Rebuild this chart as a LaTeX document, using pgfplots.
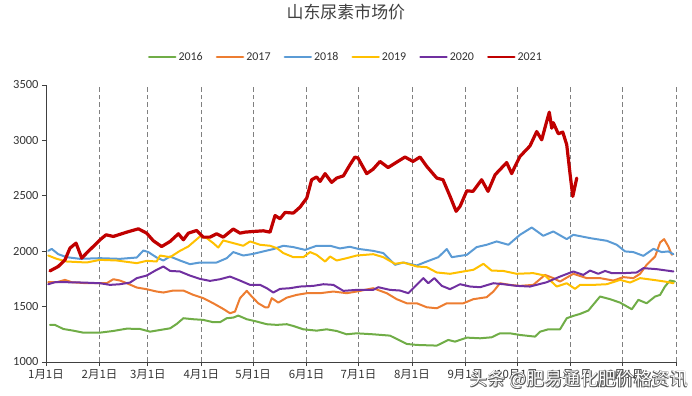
\documentclass[border=0pt]{standalone}
\usepackage{fontspec}
\setmainfont{Carlito}
\newfontfamily\cjk{Noto Sans CJK SC}
\usepackage{pgfplots}
\pgfplotsset{compat=1.18}
\definecolor{c16}{HTML}{70AD47}
\definecolor{c17}{HTML}{ED7D31}
\definecolor{c18}{HTML}{5B9BD5}
\definecolor{c19}{HTML}{FFC000}
\definecolor{c20}{HTML}{7030A0}
\definecolor{c21}{HTML}{C00000}
\definecolor{gridc}{HTML}{808080}
\begin{document}
\begin{tikzpicture}
\begin{axis}[
  name=ax,
  at={(0,0)}, anchor=south west,
  scale only axis, width=630bp, height=277bp,
  xmin=0, xmax=365, ymin=1000, ymax=3500,
  axis x line=bottom, axis y line=left,
  axis line style={-, draw=black!75, line width=0.8pt},
  xtick={0,31,59,90,120,151,181,212,243,273,304,334,365},
  xticklabels={1月1日,2月1日,3月1日,4月1日,5月1日,6月1日,7月1日,8月1日,9月1日,10月1日,11月1日,12月1日,{}},
  xticklabel style={font=\cjk\fontsize{11.5}{13}\selectfont, text=black!80},
  ytick={1000,1500,2000,2500,3000,3500},
  yticklabel style={font=\fontsize{12.5}{14}\selectfont, text=black!80},
  /pgf/number format/assume math mode=true,
  /pgf/number format/1000 sep={},
  tick align=outside, major tick length=4bp,
  tick style={draw=black!75, line width=0.8pt},
  xmajorgrids, major x grid style={gridc, dashed, dash pattern=on 4.5bp off 3bp, line width=0.8pt},
  title={山东尿素市场价},
  title style={at={(0.476,1.242)}, anchor=center, font=\cjk\fontsize{17}{19}\selectfont, text=black!75},
  legend columns=6,
  legend style={at={(0.476,1.101)}, anchor=center, draw=none, fill=none,
    font=\fontsize{12}{14}\selectfont, text=black!80,
    /tikz/every even column/.append style={column sep=11bp}},
  legend image code/.code={\draw[#1, line width=2.6bp] (0bp,0bp) -- (26bp,0bp);},
  every axis plot/.append style={line join=round, line cap=round},
]
\addplot[c16, line width=2bp] coordinates {
(2.3,1335)(5.2,1335)(10.0,1298)(15.8,1283)(21.6,1265)(31.3,1265)(39.0,1280)(46.8,1301)(54.5,1298)(60.3,1274)(66.1,1289)(71.9,1304)(75.7,1343)(79.6,1395)(85.3,1386)(91.1,1380)(96.9,1359)(100.8,1359)(104.7,1395)(108.5,1401)(111.4,1419)(116.3,1386)(122.1,1365)(127.9,1341)(133.7,1335)(139.5,1341)(143.3,1325)(149.1,1295)(156.8,1283)(162.6,1295)(168.4,1280)(174.2,1250)(180.0,1259)(189.6,1250)(199.3,1238)(209.0,1163)(214.8,1154)(226.4,1148)(233.1,1199)(237.0,1184)(243.8,1220)(251.5,1214)(258.2,1223)(263.0,1259)(268.8,1259)(274.6,1244)(283.3,1229)(286.3,1274)(291.0,1295)(297.8,1295)(301.7,1395)(305.5,1416)(309.4,1434)(314.2,1464)(321.0,1591)(326.8,1567)(332.6,1536)(339.4,1476)(343.2,1561)(348.0,1530)(352.9,1591)(355.8,1606)(358.6,1681)(361.5,1735)(364.4,1726)
};
\addlegendentry{2016}
\addplot[c17, line width=2bp] coordinates {
(1.3,1720)(6.2,1720)(11.0,1741)(14.9,1720)(23.6,1711)(35.2,1711)(39.0,1747)(42.9,1735)(46.8,1711)(52.6,1672)(58.3,1657)(64.1,1636)(68.0,1627)(73.8,1645)(79.6,1645)(85.3,1606)(91.1,1576)(96.9,1530)(102.7,1479)(106.6,1440)(109.5,1455)(112.4,1576)(116.3,1642)(119.2,1591)(123.0,1530)(126.9,1494)(128.8,1494)(130.8,1576)(134.6,1536)(139.5,1581)(145.3,1606)(151.1,1621)(158.8,1621)(166.5,1636)(174.2,1621)(180.0,1636)(189.6,1666)(197.4,1621)(203.2,1567)(209.0,1530)(214.8,1530)(220.6,1494)(226.4,1485)(232.2,1530)(241.8,1530)(247.6,1567)(255.3,1585)(259.2,1636)(263.0,1711)(268.8,1696)(274.6,1687)(282.3,1696)(289.1,1786)(293.9,1757)(297.8,1726)(305.5,1796)(313.3,1757)(321.0,1757)(328.7,1735)(334.5,1766)(340.3,1757)(344.2,1796)(348.0,1877)(352.9,1952)(355.8,2079)(358.1,2109)(360.6,2042)(362.6,1967)
};
\addlegendentry{2017}
\addplot[c18, line width=2bp] coordinates {
(1.3,2003)(3.3,2021)(7.1,1973)(12.0,1946)(19.7,1931)(31.3,1937)(42.9,1931)(52.6,1943)(56.4,2006)(59.3,1992)(64.1,1943)(68.0,1916)(71.9,1952)(77.6,1916)(83.4,1883)(89.2,1898)(98.9,1898)(104.7,1937)(108.5,1992)(114.3,1961)(120.1,1976)(125.9,1998)(131.7,2019)(137.5,2049)(143.3,2037)(150.1,2012)(156.8,2049)(164.6,2049)(170.3,2025)(176.1,2040)(180.9,2021)(189.6,2003)(195.4,1983)(202.2,1877)(207.0,1898)(214.8,1871)(220.6,1907)(227.3,1946)(232.2,2019)(235.1,1946)(243.8,1967)(249.5,2037)(255.3,2058)(261.1,2088)(267.9,2058)(274.6,2148)(281.4,2214)(288.1,2139)(293.9,2178)(301.7,2109)(305.5,2148)(315.2,2118)(324.9,2094)(330.7,2058)(335.5,1998)(340.3,1992)(346.1,1958)(351.9,2021)(356.7,1992)(360.6,1998)(363.5,1973)
};
\addlegendentry{2018}
\addplot[c19, line width=2bp] coordinates {
(1.3,1961)(6.2,1931)(12.0,1907)(23.6,1898)(31.3,1922)(41.0,1916)(52.6,1892)(58.3,1913)(64.1,1907)(66.1,1961)(71.9,1946)(77.6,2003)(82.4,2042)(89.2,2133)(93.1,2118)(96.9,2073)(99.8,2033)(102.7,2097)(108.5,2073)(114.3,2049)(118.2,2088)(124.0,2058)(129.8,2049)(133.7,2028)(137.5,1983)(143.3,1946)(149.1,1946)(153.0,1992)(156.8,1967)(161.7,1907)(164.6,1952)(168.4,1916)(174.2,1937)(180.0,1961)(189.6,1973)(195.4,1946)(202.2,1886)(207.0,1898)(214.8,1862)(220.6,1856)(226.4,1808)(234.1,1796)(241.8,1817)(247.6,1832)(253.4,1886)(258.2,1825)(264.9,1822)(272.7,1796)(282.3,1802)(289.1,1780)(295.9,1681)(301.7,1711)(306.5,1660)(309.4,1696)(317.1,1696)(324.9,1702)(332.6,1741)(338.4,1717)(344.2,1757)(351.9,1741)(358.6,1726)(363.5,1711)
};
\addlegendentry{2019}
\addplot[c20, line width=2bp] coordinates {
(1.3,1702)(5.2,1720)(12.0,1720)(21.6,1717)(31.3,1711)(37.1,1696)(42.9,1702)(48.7,1717)(52.6,1757)(58.3,1780)(64.1,1832)(68.0,1862)(71.9,1822)(77.6,1817)(83.4,1780)(89.2,1750)(95.0,1732)(100.8,1747)(106.6,1771)(112.4,1735)(118.2,1696)(124.0,1696)(127.9,1666)(131.7,1627)(135.6,1660)(141.4,1666)(147.2,1681)(154.9,1687)(160.7,1702)(166.5,1696)(172.3,1642)(180.0,1651)(189.6,1651)(192.5,1675)(199.3,1651)(205.1,1645)(209.9,1621)(213.8,1681)(218.6,1757)(221.5,1711)(225.0,1757)(229.3,1687)(234.1,1657)(239.9,1702)(245.7,1681)(251.5,1675)(259.2,1711)(265.0,1702)(272.7,1687)(280.4,1681)(290.1,1720)(297.8,1771)(305.5,1817)(311.3,1786)(315.2,1825)(320.0,1796)(323.9,1822)(327.8,1802)(334.5,1802)(342.3,1808)(346.1,1847)(353.8,1838)(363.5,1817)
};
\addlegendentry{2020}
\addplot[c21, line width=3.2bp] coordinates {
(2.3,1822)(7.1,1862)(11.0,1922)(13.9,2028)(17.4,2073)(20.7,1938)(24.5,1998)(28.4,2058)(31.3,2103)(34.8,2148)(39.0,2133)(46.8,2172)(53.5,2202)(58.3,2163)(62.2,2094)(67.0,2042)(71.9,2088)(76.7,2157)(79.6,2103)(82.5,2163)(87.3,2187)(91.1,2127)(95.0,2127)(98.9,2157)(102.7,2127)(108.5,2200)(112.4,2163)(115.3,2172)(120.1,2178)(125.9,2184)(129.8,2172)(132.7,2322)(135.6,2293)(138.5,2350)(143.3,2344)(147.2,2398)(151.1,2480)(153.9,2645)(156.8,2670)(158.8,2630)(161.7,2700)(165.5,2621)(168.4,2660)(172.3,2680)(176.1,2780)(179.0,2850)(180.8,2840)(185.8,2700)(189.5,2740)(193.5,2810)(198.2,2755)(202.8,2800)(208.0,2850)(212.6,2810)(216.7,2850)(220.6,2765)(226.4,2660)(230.0,2645)(234.1,2495)(237.6,2360)(239.9,2405)(243.8,2545)(247.4,2540)(252.4,2645)(256.1,2540)(260.2,2690)(266.9,2800)(269.8,2700)(271.7,2765)(274.6,2855)(280.4,2950)(284.3,3080)(287.2,3005)(289.7,3150)(291.6,3255)(293.0,3110)(293.9,3160)(296.8,3060)(299.4,3075)(301.7,2960)(303.6,2700)(305.2,2495)(307.5,2660)
};
\addlegendentry{2021}
\end{axis}
\foreach \dx/\dy in {0.7/-0.7,-0.5/0.5,0.7/0.5,-0.5/-0.7}{
  \node[font=\cjk\fontsize{18}{20}\selectfont, text=black!65] at ([xshift=\dx bp, yshift=\dy bp]533bp,-18bp) {头条 @肥易通化肥价格资讯};
}
\node[font=\cjk\fontsize{18}{20}\selectfont, text=white] at (533bp,-18bp) {头条 @肥易通化肥价格资讯};
\pgfresetboundingbox
\path[use as bounding box] (-46bp,-34bp) rectangle (646bp,362bp);
\end{tikzpicture}
\end{document}
